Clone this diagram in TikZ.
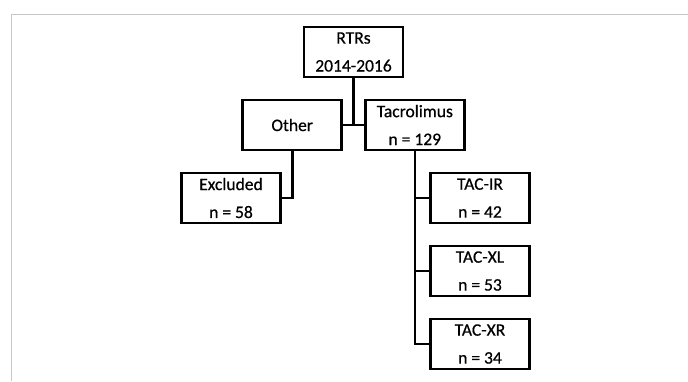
\documentclass[tikz,border=0pt]{standalone}
\usepackage{fontspec}
\setmainfont{Carlito}
\newfontfamily\boxfont[FakeBold=0.6]{Carlito}
\begin{document}
\begin{tikzpicture}[x=1bp,y=-1bp,
  box/.style={draw=black,line width=2.6bp,minimum width=99bp,minimum height=50bp,inner sep=0pt,align=center,
    font=\boxfont\fontsize{17.6}{28}\selectfont},
  conn/.style={draw=black,line width=2.6bp},
  frameline/.style={draw=black!22,line width=0.9bp}]
\useasboundingbox (0,0) rectangle (688,381);
\draw[frameline] (688,14) -- (11,14) -- (11,381);
\node[box] (rtr) at (353.5,52) {RTRs\\2014-2016};
\node[box] (other) at (292.2,125) {Other};
\node[box] (tac) at (414.8,125) {Tacrolimus\\n = 129};
\node[box] (exc) at (231,198) {Excluded\\n = 58};
\node[box] (ir) at (480,198) {TAC-IR\\n = 42};
\node[box] (xl) at (480,271) {TAC-XL\\n = 53};
\node[box] (xr) at (480,344) {TAC-XR\\n = 34};
\draw[conn] (rtr.south) -- (rtr.south |- other.east);
\draw[conn] (other.east) -- (tac.west);
\draw[conn] (other.south) |- (exc.east);
\draw[conn] (tac.south) |- (xr.west);
\draw[conn] (tac.south |- ir.west) -- (ir.west);
\draw[conn] (tac.south |- xl.west) -- (xl.west);
\end{tikzpicture}
\end{document}
